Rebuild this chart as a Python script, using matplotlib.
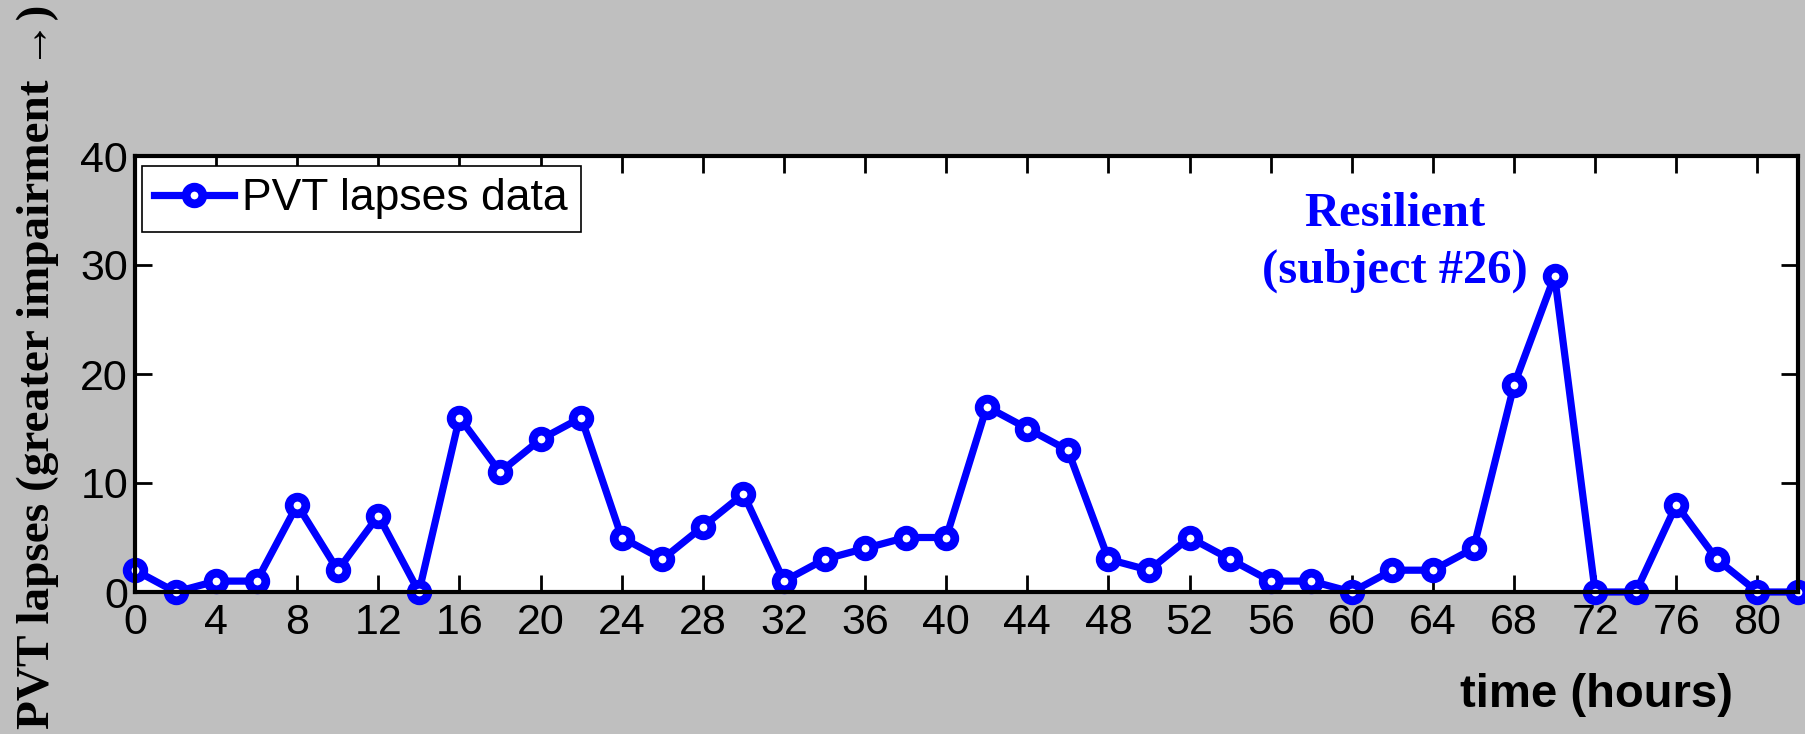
import matplotlib
matplotlib.use("Agg")
import matplotlib.pyplot as plt
import numpy as np

# ---- data ----
hours = [0, 2, 4, 6, 8, 10, 12, 14, 16, 18, 20, 22, 24, 26, 28, 30, 32, 34, 36, 38, 40,
         42, 44, 46, 48, 50, 52, 54, 56, 58, 60, 62, 64, 66, 68, 70, 72, 74, 76, 78, 80, 82]
lapses = [2, 0, 1, 1, 8, 2, 7, 0, 16, 11, 14, 16, 5, 3, 6, 9, 1, 3, 4, 5, 5,
          17, 15, 13, 3, 2, 5, 3, 1, 1, 0, 2, 2, 4, 19, 29, 0, 0, 8, 3, 0, 0]
x_ticks = list(range(0, 81, 4))
y_ticks = [0, 10, 20, 30, 40]
series_label = "PVT lapses data"
annotation_lines = ["Resilient", "(subject #26)"]
xlabel = "time (hours)"
ylabel = "PVT lapses (greater impairment \u2192)"

W, H = 1806, 734
fig = plt.figure(figsize=(W / 100, H / 100), dpi=100, facecolor="#bfbfbf")
ax = fig.add_axes([135 / W, 1 - 592 / H, (1798 - 135) / W, (592 - 156) / H])
ax.set_facecolor("white")

sans = ["Liberation Sans", "DejaVu Sans"]
serif = ["Liberation Serif", "DejaVu Serif"]

ax.plot(hours, lapses, color="#0000ff", lw=5.2, marker="o", ms=12, mew=6.3,
        mfc="white", mec="#0000ff", label=series_label, clip_on=False, zorder=3)

ax.set_xlim(0, 82)
ax.set_ylim(0, 40)
ax.set_xticks(x_ticks)
ax.set_yticks(y_ticks)
ax.tick_params(direction="in", length=12, width=2, top=True, right=True,
               labelsize=31, pad=8, colors="black")
ax.tick_params(axis="y", pad=5)
for lbl in ax.get_xticklabels() + ax.get_yticklabels():
    lbl.set_family(sans)
for s in ax.spines.values():
    s.set_linewidth(3)
    s.set_color("black")
    s.set_zorder(4)

leg = ax.legend(loc="upper left", bbox_to_anchor=(142 / W, 1 - 166 / H),
                bbox_transform=fig.transFigure, borderaxespad=0, numpoints=1,
                prop={"family": sans, "size": 32}, handlelength=1.8,
                handletextpad=0.18, borderpad=0.28, fancybox=False, framealpha=1,
                edgecolor="black")
leg.get_frame().set_linewidth(1.2)
leg.set_zorder(5)

ax.text(62.1, 33.6, annotation_lines[0], color="#0000ff", fontsize=35,
        fontweight="bold", family=serif, ha="center", va="baseline")
ax.text(62.1, 28.35, annotation_lines[1], color="#0000ff", fontsize=35,
        fontweight="bold", family=serif, ha="center", va="baseline")

fig.text(1733 / W, 1 - 707 / H, xlabel, fontsize=34, fontweight="bold",
         family=sans, ha="right", va="baseline")
fig.text(38 / W, 1 - 367 / H, ylabel, fontsize=34, fontweight="bold",
         family=serif, rotation=90, ha="center", va="center")

fig.savefig("out.png", dpi=100, facecolor=fig.get_facecolor())
